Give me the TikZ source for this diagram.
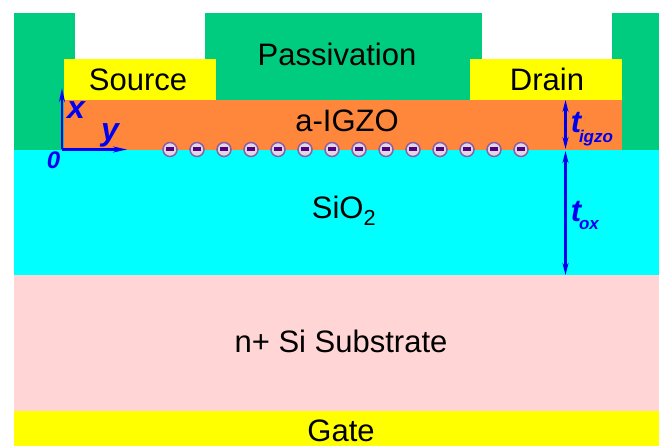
\documentclass[tikz,border=0pt]{standalone}
\usepackage{fontspec}
\setmainfont{Liberation Sans}
\usetikzlibrary{arrows.meta}
\definecolor{passgreen}{HTML}{00CC7F}
\definecolor{igzo}{HTML}{FF873C}
\definecolor{oxide}{HTML}{00FFFF}
\definecolor{subst}{HTML}{FFD5D5}
\definecolor{metal}{HTML}{FFFF00}
\definecolor{dimblue}{HTML}{0000F0}
\definecolor{dotpurple}{HTML}{8E5BA6}
\definecolor{dotfill}{HTML}{DDD8E2}
\definecolor{dotbar}{HTML}{55007F}
\tikzset{
  x=1pt,y=-1pt,
  layer/.style={fill=#1,draw=none},
  lab/.style={text=black,font=\fontsize{31}{34}\selectfont,inner sep=0pt},
  axlab/.style={text=dimblue,font=\fontsize{32}{34}\selectfont\bfseries\itshape,inner sep=0pt},
  zerolab/.style={text=dimblue,font=\fontsize{24}{26}\selectfont\bfseries\itshape,inner sep=0pt},
  dimlab/.style={text=dimblue,font=\fontsize{31}{34}\selectfont\bfseries\itshape,inner sep=0pt},
  sublab/.style={text=dimblue,font=\fontsize{17}{20}\selectfont\bfseries\itshape,inner sep=0pt},
  dimline/.style={draw=dimblue,line width=2.2pt,{Stealth[length=12pt,width=6pt]}-{Stealth[length=12pt,width=6pt]}},
  axisline/.style={draw=dimblue,line width=2.2pt,-{Stealth[length=14pt,width=6pt]}},
  charge/.style={circle,draw=dotpurple,fill=dotfill,line width=1.5pt,minimum size=14pt,inner sep=0pt,
    path picture={\fill[dotbar] ([xshift=-4pt,yshift=-2pt]path picture bounding box.center) rectangle ([xshift=4pt,yshift=2pt]path picture bounding box.center);}},
}
\begin{document}
\begin{tikzpicture}
\useasboundingbox (0,0) rectangle (659,446);
\fill[white] (0,0) rectangle (659,446);
% layers
\fill[layer=passgreen] (14,13) rectangle (75,150);
\fill[layer=passgreen] (205,13) rectangle (482,100);
\fill[layer=passgreen] (612,13) rectangle (659,150);
\fill[layer=igzo] (64,100) rectangle (622,150);
\fill[layer=metal] (64,59) rectangle (216,100);
\fill[layer=metal] (470,59) rectangle (622,100);
\fill[layer=oxide] (14,150) rectangle (659,275);
\fill[layer=subst] (14,275) rectangle (659,411);
\fill[layer=metal] (14,411) rectangle (659,446);
% labels
\node[lab] (passivation) at (337,54) {Passivation};
\node[lab] (source) at (138,79.5) {Source};
\node[lab] (drain) at (547,79.5) {Drain};
\node[lab] (igzolabel) at (347,120.5) {a-IGZO};
\node[lab] (sio) at (344,211) {SiO\textsubscript{2}};
\node[lab] (substrate) at (341,341) {n+ Si Substrate};
\node[lab] (gate) at (341,431) {Gate};
% charges
\foreach \i in {0,...,13}{
  \node[charge] (q\i) at ({170+27*\i},149.5) {};
}
% axes
\coordinate (origin) at (62,149.5);
\coordinate (xtip) at (62,88);
\coordinate (ytip) at (127,149.5);
\draw[axisline] (origin) -- (xtip);
\draw[axisline] (origin) -- (ytip);
\node[axlab] (xlab) at (76,110) {x};
\node[axlab] (ylab) at (110,135) {y};
\node[zerolab] (zero) at (53.5,160) {0};
% dimensions
\coordinate (da) at (565.5,100);
\coordinate (db) at (565.5,149);
\coordinate (dc) at (565.5,151);
\coordinate (dd) at (565.5,275);
\draw[dimline] (da) -- (db);
\draw[dimline] (dc) -- (dd);
\node[dimlab] (tigzo) at (576,123) {t};
\node[sublab] (tigzosub) at (596,138) {igzo};
\node[dimlab] (tox) at (576,212) {t};
\node[sublab] (toxsub) at (589,225.5) {ox};
\end{tikzpicture}
\end{document}
